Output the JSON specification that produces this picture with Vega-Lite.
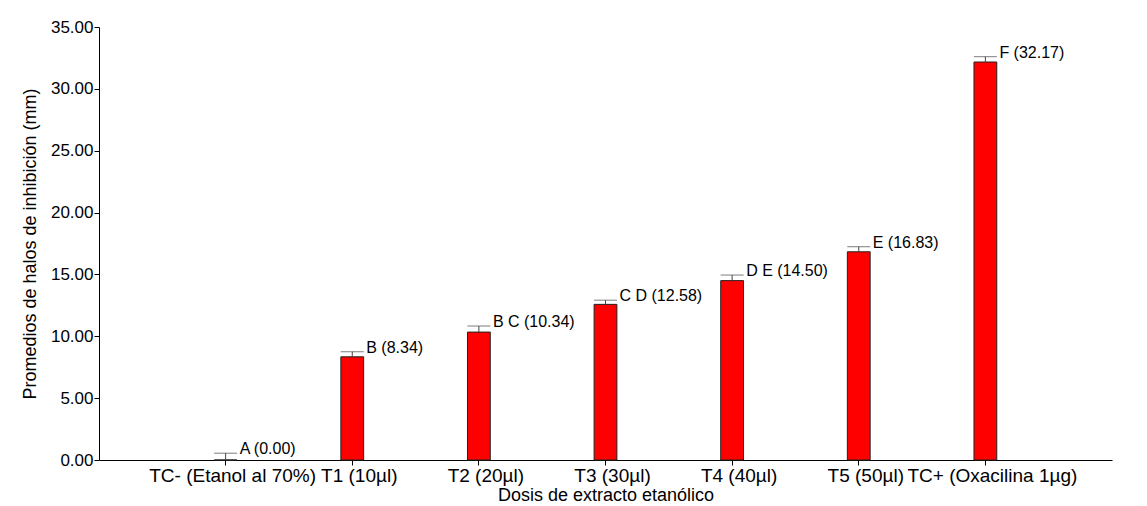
{
  "$schema": "https://vega.github.io/schema/vega-lite/v6.json",
  "width": 1013,
  "height": 433,
  "autosize": {"type": "none"},
  "padding": {"left": 99, "top": 27, "right": 35, "bottom": 46},
  "background": "white",
  "config": {"view": {"stroke": null}, "font": "Liberation Sans"},
  "data": {
    "values": [
      {"trat": "TC- (Etanol al 70%)", "media": 0.0, "sup": 0.55, "etiqueta": "A (0.00)"},
      {"trat": "T1 (10µl)", "media": 8.34, "sup": 8.75, "etiqueta": "B (8.34)"},
      {"trat": "T2 (20µl)", "media": 10.34, "sup": 10.83, "etiqueta": "B C (10.34)"},
      {"trat": "T3 (30µl)", "media": 12.58, "sup": 12.92, "etiqueta": "C D (12.58)"},
      {"trat": "T4 (40µl)", "media": 14.5, "sup": 14.95, "etiqueta": "D E (14.50)"},
      {"trat": "T5 (50µl)", "media": 16.83, "sup": 17.24, "etiqueta": "E (16.83)"},
      {"trat": "TC+ (Oxacilina 1µg)", "media": 32.17, "sup": 32.6, "etiqueta": "F (32.17)"}
    ]
  },
  "encoding": {
    "x": {
      "field": "trat",
      "type": "nominal",
      "sort": null,
      "scale": {"paddingInner": 0.82, "paddingOuter": 0.91},
      "axis": {
        "title": "Dosis de extracto etanólico",
        "labelAngle": 0,
        "labelFontSize": 19,
        "labelColor": "black",
        "labelOverlap": false,
        "labelLimit": 0,
        "labelOffset": 7,
        "labelPadding": 1,
        "tickSize": 5,
        "tickColor": "black",
        "domainColor": "black",
        "titleFontSize": 18,
        "titleFontWeight": "normal",
        "titleColor": "black",
        "titlePadding": 1,
        "grid": false
      }
    }
  },
  "layer": [
    {
      "mark": {"type": "bar", "color": "#ff0000", "stroke": "#222222", "strokeWidth": 1},
      "encoding": {
        "y": {
          "field": "media",
          "type": "quantitative",
          "scale": {"domain": [0, 35], "nice": false},
          "axis": {
            "title": "Promedios de halos de inhibición (mm)",
            "format": ".2f",
            "values": [0, 5, 10, 15, 20, 25, 30, 35],
            "labelFontSize": 17,
            "labelColor": "black",
            "labelPadding": 1,
            "tickSize": 5,
            "tickColor": "black",
            "domainColor": "black",
            "titleFontSize": 18,
            "titleFontWeight": "normal",
            "titleColor": "black",
            "titlePadding": 11,
            "grid": false
          }
        }
      }
    },
    {
      "mark": {"type": "rule", "color": "#444444", "strokeWidth": 1},
      "encoding": {
        "y": {"field": "media", "type": "quantitative"},
        "y2": {"field": "sup"}
      }
    },
    {
      "mark": {"type": "tick", "orient": "horizontal", "size": 23, "thickness": 1, "color": "#444444"},
      "encoding": {
        "y": {"field": "sup", "type": "quantitative"}
      }
    },
    {
      "mark": {"type": "text", "align": "left", "baseline": "alphabetic", "dx": 14, "dy": 1, "fontSize": 16, "color": "black"},
      "encoding": {
        "y": {"field": "sup", "type": "quantitative"},
        "text": {"field": "etiqueta"}
      }
    }
  ]
}
